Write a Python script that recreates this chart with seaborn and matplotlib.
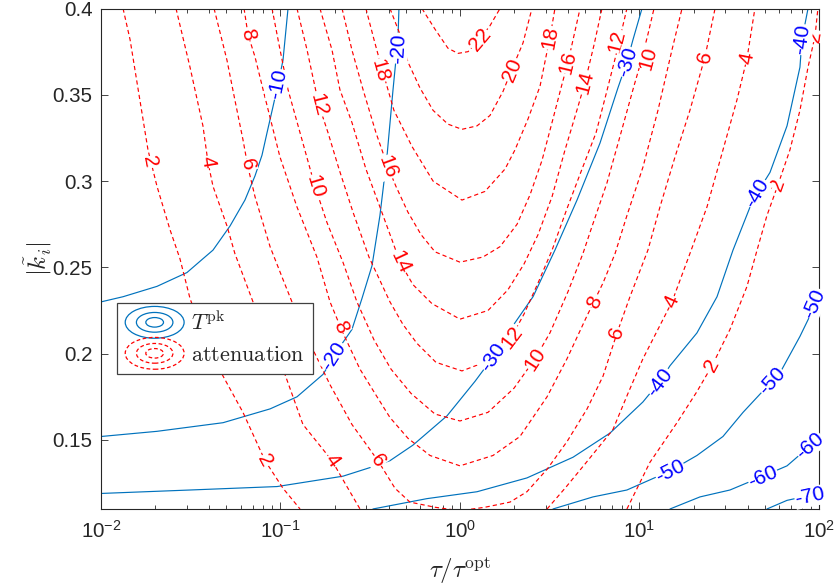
import numpy as np
import pandas as pd
import matplotlib
matplotlib.use("Agg")
import matplotlib.pyplot as plt
import matplotlib.ticker as mticker
from matplotlib.legend_handler import HandlerBase
from matplotlib.patches import Ellipse
from matplotlib.lines import Line2D
import seaborn as sns

# ---------------- data (x stored as log10(tau/tau_opt), y = |k_i|) ----------------
# T^pk contours (solid blue)
TPK_M10_LOGTAU = [-2.000, -1.877, -1.688, -1.521, -1.432, -1.376, -1.281, -1.198, -1.142, -1.103, -1.075, -1.042, -1.014, -0.986, -0.958]
TPK_M10_K = [0.230, 0.233, 0.239, 0.247, 0.255, 0.260, 0.274, 0.289, 0.303, 0.315, 0.328, 0.343, 0.356, 0.370, 0.400]
TPK_M20_LOGTAU = [-2.000, -1.688, -1.320, -1.058, -0.908, -0.763, -0.669, -0.602, -0.546, -0.490, -0.446, -0.407, -0.373, -0.357, -0.345, -0.340]
TPK_M20_K = [0.152, 0.155, 0.160, 0.168, 0.175, 0.188, 0.204, 0.214, 0.232, 0.251, 0.280, 0.314, 0.353, 0.370, 0.384, 0.400]
TPK_M30_LOGTAU = [-2.000, -1.504, -1.019, -0.652, -0.501, -0.390, -0.262, -0.072, 0.084, 0.184, 0.267, 0.407, 0.529, 0.652, 0.780, 0.880, 0.930, 0.964, 1.014]
TPK_M30_K = [0.119, 0.121, 0.123, 0.129, 0.134, 0.138, 0.147, 0.164, 0.184, 0.198, 0.212, 0.233, 0.260, 0.289, 0.322, 0.354, 0.369, 0.382, 0.400]
TPK_M40_LOGTAU = [-0.485, -0.184, 0.095, 0.373, 0.630, 0.836, 1.019, 1.114, 1.170, 1.320, 1.432, 1.521, 1.616, 1.655, 1.727, 1.822, 1.894, 1.905, 1.939]
TPK_M40_K = [0.110, 0.116, 0.120, 0.128, 0.140, 0.154, 0.172, 0.184, 0.193, 0.212, 0.233, 0.260, 0.285, 0.293, 0.305, 0.332, 0.366, 0.382, 0.400]
TPK_M50_LOGTAU = [0.518, 0.741, 0.930, 1.170, 1.320, 1.465, 1.577, 1.738, 1.794, 1.894, 1.950, 2.000]
TPK_M50_K = [0.110, 0.117, 0.121, 0.132, 0.141, 0.152, 0.166, 0.184, 0.191, 0.210, 0.222, 0.234]
TPK_M60_LOGTAU = [1.170, 1.337, 1.504, 1.688, 1.822, 1.911, 2.000]
TPK_M60_K = [0.110, 0.117, 0.121, 0.129, 0.135, 0.143, 0.151]
TPK_M70_LOGTAU = [1.710, 1.822, 2.000]
TPK_M70_K = [0.110, 0.115, 0.119]

# attenuation contours (dashed red)
ATT_02L_LOGTAU = [-1.877, -1.838, -1.799, -1.738, -1.688, -1.616, -1.560, -1.504, -1.421, -1.320, -1.209, -1.086, -0.986, -0.891]
ATT_02L_K = [0.400, 0.382, 0.357, 0.318, 0.297, 0.272, 0.255, 0.232, 0.208, 0.187, 0.166, 0.138, 0.122, 0.110]
ATT_02R_LOGTAU = [0.930, 1.058, 1.209, 1.320, 1.404, 1.504, 1.599, 1.655, 1.710, 1.772, 1.838, 1.894, 1.939, 1.978, 1.994]
ATT_02R_K = [0.110, 0.137, 0.160, 0.178, 0.193, 0.214, 0.239, 0.260, 0.280, 0.298, 0.318, 0.341, 0.366, 0.384, 0.400]
ATT_04L_LOGTAU = [-1.582, -1.504, -1.432, -1.404, -1.376, -1.298, -1.254, -1.153, -1.058, -0.975, -0.875, -0.713, -0.641, -0.557]
ATT_04L_K = [0.400, 0.366, 0.332, 0.311, 0.297, 0.274, 0.258, 0.230, 0.206, 0.188, 0.159, 0.138, 0.125, 0.110]
ATT_04R_LOGTAU = [0.485, 0.585, 0.696, 0.852, 0.936, 1.019, 1.181, 1.281, 1.376, 1.465, 1.543, 1.599, 1.643]
ATT_04R_K = [0.110, 0.122, 0.136, 0.156, 0.177, 0.197, 0.230, 0.258, 0.285, 0.318, 0.347, 0.371, 0.400]
ATT_06_LOGTAU = [-1.370, -1.298, -1.254, -1.209, -1.181, -1.142, -1.058, -0.986, -0.936, -0.836, -0.724, -0.602, -0.457, -0.362, -0.279, -0.139, 0.000, 0.139, 0.279, 0.373, 0.485, 0.596, 0.708, 0.797, 0.875, 0.947, 1.047, 1.114, 1.198, 1.281, 1.365, 1.421]
ATT_06_K = [0.400, 0.370, 0.347, 0.324, 0.308, 0.291, 0.262, 0.243, 0.230, 0.206, 0.182, 0.159, 0.138, 0.122, 0.114, 0.111, 0.109, 0.111, 0.114, 0.120, 0.133, 0.149, 0.168, 0.187, 0.212, 0.233, 0.260, 0.285, 0.314, 0.341, 0.372, 0.400]
ATT_08_LOGTAU = [-1.203, -1.181, -1.142, -1.097, -1.003, -0.908, -0.797, -0.724, -0.652, -0.557, -0.474, -0.390, -0.290, -0.167, 0.000, 0.184, 0.334, 0.485, 0.596, 0.708, 0.797, 0.864, 0.930, 1.019, 1.103, 1.181, 1.237]
ATT_08_K = [0.400, 0.385, 0.372, 0.353, 0.314, 0.285, 0.256, 0.230, 0.212, 0.191, 0.177, 0.163, 0.151, 0.141, 0.135, 0.141, 0.152, 0.175, 0.197, 0.222, 0.241, 0.258, 0.280, 0.308, 0.341, 0.376, 0.400]
ATT_10_LOGTAU = [-1.047, -1.008, -0.958, -0.891, -0.808, -0.741, -0.652, -0.574, -0.479, -0.384, -0.273, -0.139, 0.000, 0.156, 0.301, 0.418, 0.501, 0.602, 0.685, 0.730, 0.819, 0.897, 0.969, 1.008, 1.047, 1.081]
ATT_10_K = [0.400, 0.379, 0.353, 0.328, 0.297, 0.276, 0.253, 0.230, 0.208, 0.191, 0.177, 0.165, 0.161, 0.166, 0.180, 0.197, 0.212, 0.236, 0.258, 0.272, 0.299, 0.328, 0.355, 0.369, 0.385, 0.400]
ATT_12_LOGTAU = [-0.908, -0.852, -0.786, -0.735, -0.674, -0.596, -0.507, -0.390, -0.318, -0.240, -0.134, 0.011, 0.162, 0.273, 0.357, 0.435, 0.513, 0.596, 0.680, 0.758, 0.813, 0.869, 0.930]
ATT_12_K = [0.400, 0.376, 0.344, 0.328, 0.307, 0.282, 0.256, 0.230, 0.217, 0.206, 0.195, 0.190, 0.196, 0.207, 0.223, 0.241, 0.260, 0.284, 0.307, 0.328, 0.350, 0.373, 0.400]
ATT_14_LOGTAU = [-0.780, -0.713, -0.669, -0.602, -0.524, -0.446, -0.379, -0.334, -0.262, -0.156, 0.000, 0.156, 0.267, 0.357, 0.435, 0.513, 0.585, 0.657, 0.696, 0.747, 0.791]
ATT_14_K = [0.400, 0.376, 0.353, 0.334, 0.307, 0.285, 0.266, 0.253, 0.240, 0.229, 0.220, 0.225, 0.237, 0.252, 0.269, 0.291, 0.318, 0.343, 0.357, 0.379, 0.400]
ATT_16_LOGTAU = [-0.657, -0.602, -0.540, -0.468, -0.401, -0.357, -0.290, -0.217, -0.139, 0.000, 0.128, 0.223, 0.318, 0.390, 0.457, 0.518, 0.568, 0.602, 0.669]
ATT_16_K = [0.400, 0.376, 0.353, 0.328, 0.308, 0.297, 0.282, 0.269, 0.259, 0.253, 0.256, 0.262, 0.275, 0.292, 0.312, 0.336, 0.356, 0.369, 0.400]
ATT_18_LOGTAU = [-0.524, -0.479, -0.440, -0.368, -0.267, -0.150, 0.011, 0.139, 0.251, 0.306, 0.379, 0.446, 0.479, 0.501, 0.529]
ATT_18_K = [0.400, 0.382, 0.367, 0.341, 0.320, 0.300, 0.289, 0.294, 0.307, 0.318, 0.336, 0.355, 0.372, 0.383, 0.400]
ATT_20_LOGTAU = [-0.390, -0.334, -0.290, -0.223, -0.150, -0.067, 0.011, 0.095, 0.167, 0.240, 0.290, 0.351, 0.401]
ATT_20_K = [0.400, 0.385, 0.369, 0.354, 0.341, 0.333, 0.330, 0.332, 0.338, 0.352, 0.365, 0.380, 0.400]
ATT_22_LOGTAU = [-0.212, -0.139, -0.067, -0.011, 0.045, 0.100, 0.167, 0.223]
ATT_22_K = [0.400, 0.388, 0.377, 0.374, 0.375, 0.381, 0.390, 0.400]

TPK_CURVES = [(-10, TPK_M10_LOGTAU, TPK_M10_K), (-20, TPK_M20_LOGTAU, TPK_M20_K),
              (-30, TPK_M30_LOGTAU, TPK_M30_K), (-40, TPK_M40_LOGTAU, TPK_M40_K),
              (-50, TPK_M50_LOGTAU, TPK_M50_K), (-60, TPK_M60_LOGTAU, TPK_M60_K),
              (-70, TPK_M70_LOGTAU, TPK_M70_K)]
ATT_CURVES = [(2, ATT_02L_LOGTAU, ATT_02L_K), (2, ATT_02R_LOGTAU, ATT_02R_K),
              (4, ATT_04L_LOGTAU, ATT_04L_K), (4, ATT_04R_LOGTAU, ATT_04R_K),
              (6, ATT_06_LOGTAU, ATT_06_K), (8, ATT_08_LOGTAU, ATT_08_K),
              (10, ATT_10_LOGTAU, ATT_10_K), (12, ATT_12_LOGTAU, ATT_12_K),
              (14, ATT_14_LOGTAU, ATT_14_K), (16, ATT_16_LOGTAU, ATT_16_K),
              (18, ATT_18_LOGTAU, ATT_18_K), (20, ATT_20_LOGTAU, ATT_20_K),
              (22, ATT_22_LOGTAU, ATT_22_K)]

# inline contour label anchors (level, log10 tau, k)
TPK_LABELS = [(-10, -1.014, 0.356), (-20, -0.343, 0.377), (-20, -0.702, 0.1986),
              (-30, 0.184, 0.198), (-30, 0.930, 0.369),
              (-40, 1.114, 0.1835), (-40, 1.655, 0.293), (-40, 1.905, 0.382),
              (-50, 1.170, 0.132), (-50, 1.738, 0.184), (-50, 1.975, 0.229),
              (-60, 1.688, 0.1286), (-60, 1.950, 0.1465), (-70, 1.950, 0.117)]
ATT_LABELS = [(2, -1.727, 0.311), (2, -1.086, 0.138), (2, 1.404, 0.193), (2, 1.772, 0.298), (2, 1.978, 0.384),
              (4, -1.404, 0.311), (4, -0.713, 0.138), (4, 1.181, 0.230), (4, 1.599, 0.371),
              (6, -1.184, 0.3095), (6, -0.457, 0.138), (6, 0.875, 0.212), (6, 1.365, 0.372),
              (8, -1.181, 0.385), (8, -0.663, 0.2153), (8, 0.752, 0.2298),
              (10, -0.808, 0.297), (10, 0.418, 0.197), (10, 1.047, 0.3714),
              (12, -0.786, 0.344), (12, 0.290, 0.2095), (12, 0.875, 0.381),
              (14, -0.334, 0.253), (14, 0.696, 0.357),
              (16, -0.401, 0.308), (16, 0.602, 0.369),
              (18, -0.446, 0.364), (18, 0.501, 0.383),
              (20, 0.290, 0.3645), (22, 0.111, 0.382)]

XTICKS = [1e-2, 1e-1, 1e0, 1e1, 1e2]
YTICKS = [0.15, 0.2, 0.25, 0.3, 0.35, 0.4]
YTICKLABELS = ["0.15", "0.2", "0.25", "0.3", "0.35", "0.4"]

# ---------------- style ----------------
BLUE = "#0072BD"
LABEL_BLUE = "#0000FF"
RED = "#FF0000"
AX_COLOR = "#262626"

sns.set_theme(style="ticks")
plt.rcParams["font.family"] = ["Liberation Sans", "DejaVu Sans"]
plt.rcParams["mathtext.fontset"] = "dejavusans"

fig = plt.figure(figsize=(8.38, 5.87), dpi=100)
ax = fig.add_axes([0.1205, 0.1329, 0.8568, 0.8526])


def frame(curves):
    parts = []
    for i, (lvl, lx, kk) in enumerate(curves):
        parts.append(pd.DataFrame({"tau": np.power(10.0, np.asarray(lx)),
                                   "k": kk, "curve": f"{lvl}_{i}"}))
    return pd.concat(parts, ignore_index=True)


blue_df = frame(TPK_CURVES)
red_df = frame(ATT_CURVES)

sns.lineplot(data=blue_df, x="tau", y="k", units="curve", estimator=None, sort=False,
             color=BLUE, lw=0.85, ax=ax, legend=False, zorder=2)
sns.lineplot(data=red_df, x="tau", y="k", units="curve", estimator=None, sort=False,
             color=RED, lw=0.85, linestyle=(0, (3.6, 2.6)), ax=ax, legend=False, zorder=2)

ax.set_xscale("log")
ax.set_xlim(1e-2, 1e2)
ax.set_ylim(0.11, 0.4)
ax.set_xticks(XTICKS)
ax.xaxis.set_major_formatter(mticker.LogFormatterSciNotation())
ax.xaxis.set_minor_locator(mticker.LogLocator(base=10, subs=np.arange(2, 10)))
ax.xaxis.set_minor_formatter(mticker.NullFormatter())
ax.set_yticks(YTICKS)
ax.set_yticklabels(YTICKLABELS)
ax.yaxis.set_minor_locator(mticker.NullLocator())
ax.tick_params(which="both", direction="in", top=True, right=True,
               color=AX_COLOR, labelcolor=AX_COLOR, width=0.6, labelsize=14.8)
ax.tick_params(which="major", length=5)
ax.tick_params(which="minor", length=3)
ax.tick_params(axis="x", pad=8)
ax.tick_params(axis="y", pad=6)
for s in ax.spines.values():
    s.set_color(AX_COLOR)
    s.set_linewidth(0.8)
ax.grid(False)

ax.set_xlabel(r"$\tau/\tau^{\rm opt}$", fontsize=18, math_fontfamily="cm", color=AX_COLOR)
ax.set_ylabel(r"$|\tilde{k}_i|$", fontsize=18, math_fontfamily="cm", color=AX_COLOR)
ax.xaxis.set_label_coords(0.5, -0.092)
ax.yaxis.set_label_coords(-0.066, 0.5)


def label_angle(xs, ys, x0, y0):
    pts = ax.transData.transform(np.column_stack([xs, ys]))
    p0 = ax.transData.transform((x0, y0))
    d = np.hypot(pts[:, 0] - p0[0], pts[:, 1] - p0[1])
    i = int(np.argmin(d))
    i0, i1 = max(i - 1, 0), min(i + 1, len(xs) - 1)
    dx, dy = pts[i1] - pts[i0]
    ang = np.degrees(np.arctan2(dy, dx))
    if ang > 90:
        ang -= 180
    if ang <= -90:
        ang += 180
    return ang, d[i]


def put_labels(curves, labels, color):
    for lvl, lx, kk in labels:
        x0 = 10 ** lx
        best = None
        for clvl, cx, ck in curves:
            if clvl != lvl:
                continue
            ang, dist = label_angle(np.power(10.0, np.asarray(cx)), ck, x0, kk)
            if best is None or dist < best[1]:
                best = (ang, dist)
        ax.text(x0, kk, str(lvl), color=color, fontsize=15, rotation=best[0],
                rotation_mode="anchor", ha="center", va="center", zorder=5,
                clip_on=False,
                bbox=dict(boxstyle="square,pad=0.02", fc="white", ec="none"))


put_labels(ATT_CURVES, ATT_LABELS, RED)
put_labels(TPK_CURVES, TPK_LABELS, LABEL_BLUE)


class RingsHandler(HandlerBase):
    def __init__(self, color, ls):
        super().__init__()
        self.color = color
        self.ls = ls

    def create_artists(self, legend, orig_handle, xdescent, ydescent, width,
                       height, fontsize, trans):
        cx = 0.5 * width - xdescent
        cy = 0.5 * height - ydescent
        arts = []
        for s in (1.0, 0.62, 0.3):
            e = Ellipse((cx, cy), width * s, height * 1.6 * s, fill=False,
                        edgecolor=self.color, linestyle=self.ls, lw=0.9,
                        transform=trans)
            arts.append(e)
        return arts


h_tpk = Line2D([], [], color=BLUE)
h_att = Line2D([], [], color=RED, ls="--")
leg = ax.legend([h_tpk, h_att], [r"$T^{\rm pk}$", r"$\mathrm{attenuation}$"],
                handler_map={h_tpk: RingsHandler(BLUE, "-"),
                             h_att: RingsHandler(RED, (0, (3, 2)))},
                loc="upper left", bbox_to_anchor=(0.022, 0.412),
                fontsize=16, frameon=True, fancybox=False, framealpha=1,
                edgecolor="#404040", handlelength=2.65, handleheight=1.0,
                handletextpad=0.3, borderpad=0.38, labelspacing=0.38,
                borderaxespad=0)
leg.get_frame().set_linewidth(0.9)
for t in leg.get_texts():
    t.set_math_fontfamily("cm")
    t.set_color(AX_COLOR)
leg.set_zorder(10)

fig.savefig("out.png", dpi=100)
